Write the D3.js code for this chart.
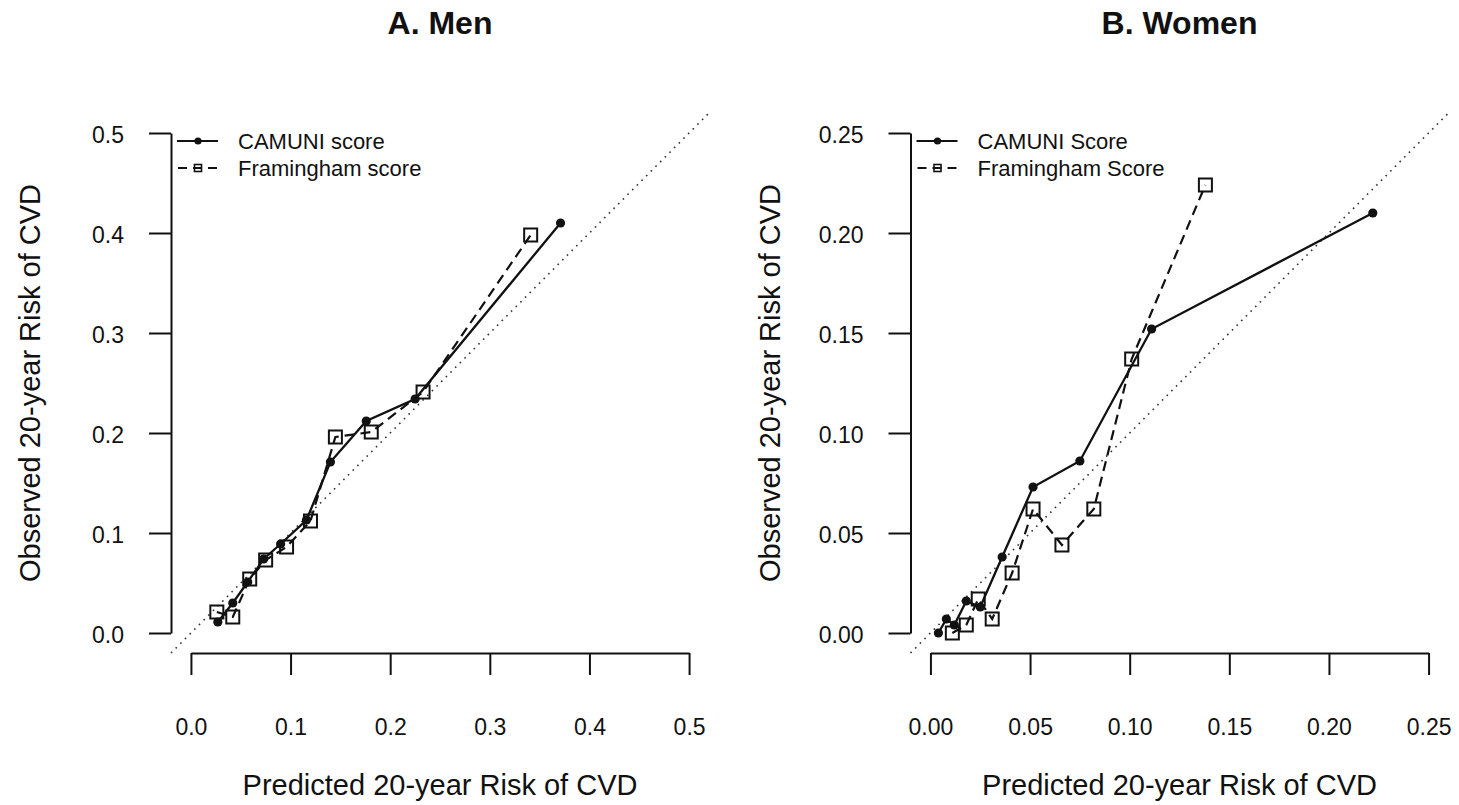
<!DOCTYPE html>
<html>
<head>
<meta charset="utf-8">
<script src="https://cdn.jsdelivr.net/npm/d3@7"></script>
<style>
  html, body { margin: 0; padding: 0; background: #fff; }
  svg text { font-family: "Liberation Sans", Arial, sans-serif; fill: #111; }
</style>
</head>
<body>
<div id="chart"></div>
<script>
// values: [predicted, observed]
const menTicks = [0, 0.1, 0.2, 0.3, 0.4, 0.5];
const womenTicks = [0, 0.05, 0.10, 0.15, 0.20, 0.25];

const menCamuni = [[0.027, 0.011], [0.042, 0.030], [0.057, 0.051], [0.073, 0.074], [0.090, 0.089],
  [0.116, 0.113], [0.140, 0.171], [0.176, 0.212], [0.225, 0.234], [0.371, 0.410]];
const menFram = [[0.026, 0.021], [0.042, 0.016], [0.059, 0.054], [0.075, 0.073], [0.096, 0.086],
  [0.120, 0.112], [0.145, 0.196], [0.181, 0.201], [0.233, 0.241], [0.341, 0.398]];

const womenCamuni = [[0.004, 0.000], [0.008, 0.007], [0.012, 0.004], [0.018, 0.016], [0.025, 0.013],
  [0.036, 0.038], [0.0515, 0.073], [0.075, 0.086], [0.111, 0.152], [0.222, 0.210]];
const womenFram = [[0.011, 0.000], [0.018, 0.004], [0.024, 0.017], [0.031, 0.007], [0.041, 0.030],
  [0.0515, 0.062], [0.066, 0.044], [0.082, 0.062], [0.101, 0.137], [0.138, 0.224]];

const W = 1459, H = 805;
const svg = d3.select('#chart').append('svg').attr('width', W).attr('height', H);
svg.append('rect').attr('width', W).attr('height', H).attr('fill', '#fff');

function drawPanel(p) {
  const lo = p.ticks[0], hi = p.ticks[p.ticks.length - 1];
  const pad = (hi - lo) * 0.04;   // R-style 4% axis extension
  const x = d3.scaleLinear().domain([lo - pad, hi + pad]).range([p.x0, p.x1]);
  const y = d3.scaleLinear().domain([lo - pad, hi + pad]).range([653, 113]);
  const xa = d3.scaleLinear().domain([lo, hi]).range([x(lo), x(hi)]);
  const ya = d3.scaleLinear().domain([lo, hi]).range([y(lo), y(hi)]);
  const g = svg.append('g');

  // axes
  const ax = g.append('g').attr('transform', `translate(0,${y(lo - pad)})`)
    .call(d3.axisBottom(xa).tickValues(p.ticks).tickFormat(d3.format(p.fmt))
      .tickSize(22).tickSizeOuter(0).tickPadding(44));
  const ay = g.append('g').attr('transform', `translate(${x(lo - pad)},0)`)
    .call(d3.axisLeft(ya).tickValues(p.ticks).tickFormat(d3.format(p.fmt))
      .tickSize(22).tickSizeOuter(0).tickPadding(25));
  [ax, ay].forEach(a => {
    a.selectAll('path, line').attr('stroke', '#111').attr('stroke-width', 2);
    a.selectAll('text').attr('font-size', 23).attr('fill', '#111')
      .style('font-family', '"Liberation Sans", Arial, sans-serif');
  });
  ay.selectAll('text').attr('dy', '0.42em');

  // identity line
  g.append('line')
    .attr('x1', x(lo - pad)).attr('y1', y(lo - pad)).attr('x2', x(hi + pad)).attr('y2', y(hi + pad))
    .attr('stroke', '#333').attr('stroke-width', 1.6).attr('stroke-dasharray', '1.6,5');

  const line = d3.line().x(d => x(d[0])).y(d => y(d[1]));

  // Framingham: dashed with open squares
  g.append('path').datum(p.fram).attr('d', line).attr('fill', 'none')
    .attr('stroke', '#111').attr('stroke-width', 2.2).attr('stroke-dasharray', '10,6');
  g.selectAll(null).data(p.fram).enter().append('rect')
    .attr('x', d => x(d[0]) - 6.5).attr('y', d => y(d[1]) - 6.5)
    .attr('width', 13).attr('height', 13)
    .attr('fill', 'none').attr('stroke', '#111').attr('stroke-width', 2);

  // CAMUNI: solid with filled dots
  g.append('path').datum(p.camuni).attr('d', line).attr('fill', 'none')
    .attr('stroke', '#111').attr('stroke-width', 2.3);
  g.selectAll(null).data(p.camuni).enter().append('circle')
    .attr('cx', d => x(d[0])).attr('cy', d => y(d[1])).attr('r', 4.6).attr('fill', '#111');

  // legend
  const lx = p.x0;
  g.append('line').attr('x1', lx + 6).attr('x2', lx + 47).attr('y1', 141).attr('y2', 141)
    .attr('stroke', '#111').attr('stroke-width', 2);
  g.append('circle').attr('cx', lx + 27).attr('cy', 141).attr('r', 3.6).attr('fill', '#111');
  g.append('line').attr('x1', lx + 7).attr('x2', lx + 47).attr('y1', 168).attr('y2', 168)
    .attr('stroke', '#111').attr('stroke-width', 2).attr('stroke-dasharray', '9,6');
  g.append('rect').attr('x', lx + 23.5).attr('y', 164.5).attr('width', 7).attr('height', 7)
    .attr('fill', 'none').attr('stroke', '#111').attr('stroke-width', 1.6);
  p.legend.forEach((t, i) => g.append('text')
    .attr('x', lx + 67).attr('y', 141 + i * 27.5).attr('dy', '0.36em')
    .attr('font-size', 22).text(t));

  // titles
  const cx = (p.x0 + p.x1) / 2;
  g.append('text').attr('x', cx).attr('y', 34).attr('text-anchor', 'middle')
    .attr('font-size', 32).attr('font-weight', 'bold').text(p.title);
  g.append('text').attr('x', cx).attr('y', 795).attr('text-anchor', 'middle')
    .attr('font-size', 29).text('Predicted 20-year Risk of CVD');
  g.append('text').attr('transform', `translate(${p.x0 - 131},383) rotate(-90)`)
    .attr('text-anchor', 'middle').attr('font-size', 29).text('Observed 20-year Risk of CVD');
}

drawPanel({ title: 'A. Men', x0: 171, x1: 709, ticks: menTicks, fmt: '.1f',
  camuni: menCamuni, fram: menFram, legend: ['CAMUNI score', 'Framingham score'] });
drawPanel({ title: 'B. Women', x0: 910.5, x1: 1448.5, ticks: womenTicks, fmt: '.2f',
  camuni: womenCamuni, fram: womenFram, legend: ['CAMUNI Score', 'Framingham Score'] });
</script>
</body>
</html>
